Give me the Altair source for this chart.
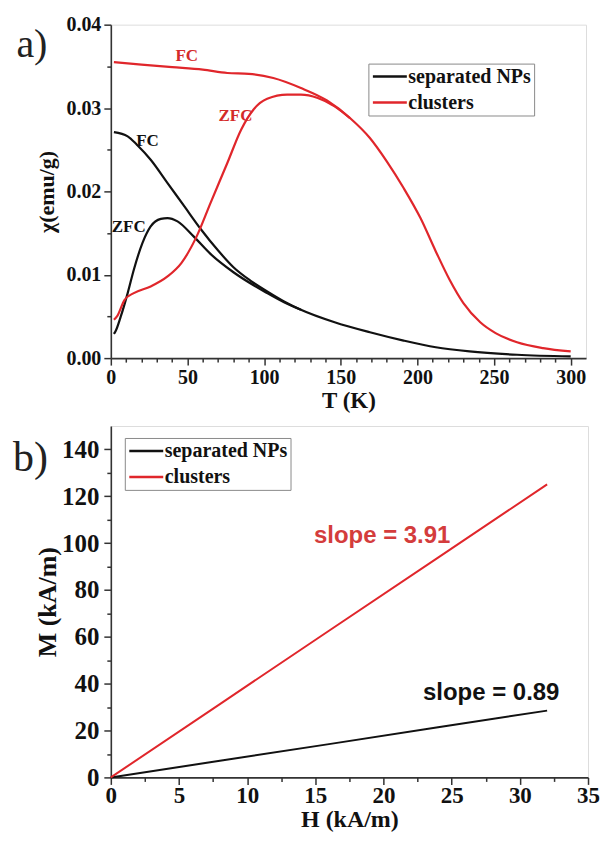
import altair as alt
import pandas as pd

# ---------------- Panel a: chi(T) ----------------
np_fc_T = [2, 11, 17, 26, 37, 48, 59, 70, 80, 91, 102, 113, 124, 146, 169, 191, 212, 234, 265, 300]
np_fc_chi = [0.0271, 0.0266, 0.0256, 0.0238, 0.0210, 0.0182, 0.0154, 0.0129, 0.0109, 0.0093,
             0.0080, 0.0068, 0.0058, 0.0043, 0.0031, 0.0021, 0.0013, 0.0008, 0.0004, 0.0002]

np_zfc_T = [2, 3, 6.5, 11, 15, 20.6, 26, 32.6, 37, 43.5, 54, 65, 80, 102, 113, 124]
np_zfc_chi = [0.0029, 0.0032, 0.0050, 0.0078, 0.0106, 0.0138, 0.0158, 0.0167, 0.0168, 0.0164,
              0.0146, 0.0125, 0.0103, 0.0078, 0.0067, 0.0058]

cl_fc_T = [2, 20, 40, 60, 76, 90, 106, 124, 141, 156, 169, 180, 191, 202, 212, 221, 230, 241,
           251, 265, 282, 300]
cl_fc_chi = [0.0355, 0.0352, 0.0349, 0.0346, 0.0342, 0.0341, 0.0336, 0.0324, 0.0309, 0.0288,
             0.0264, 0.0236, 0.0204, 0.0168, 0.0128, 0.0094, 0.0066, 0.0043, 0.0030, 0.0019,
             0.0012, 0.0008]

cl_zfc_T = [2, 4, 9, 15, 26, 37, 46, 56, 65, 76, 85, 93, 102, 115, 124, 135, 146, 156]
cl_zfc_chi = [0.0046, 0.0050, 0.0070, 0.0078, 0.0086, 0.0098, 0.0114, 0.0146, 0.0186, 0.0234,
              0.0274, 0.0298, 0.0311, 0.0316, 0.0316, 0.0312, 0.0302, 0.0288]

label_a_text = ["FC", "ZFC", "FC", "ZFC"]
label_a_T = [23.9, 11.7, 49.5, 81.3]
label_a_chi = [0.0260, 0.0157, 0.0362, 0.0290]
label_a_color = ["#111111", "#111111", "#d42a2a", "#d42a2a"]

tag_a_text = ["a)"]
tag_a_T = [-51.5]
tag_a_chi = [0.0375]

T_ticks = list(range(0, 310, 10))
chi_ticks = [0, 0.005, 0.01, 0.015, 0.02, 0.025, 0.03, 0.035, 0.04]

# ---------------- Panel b: M(H) ----------------
H_vals = [0, 8, 16, 24, 32]
M_np = [0, 7.1, 14.2, 21.4, 28.5]
M_cl = [0, 31.3, 62.6, 93.8, 125.1]

label_b_text = ["slope = 3.91", "slope = 0.89"]
label_b_H = [19.9, 27.9]
label_b_M = [103, 36.2]
label_b_color = ["#d43c3c", "#111111"]

tag_b_text = ["b)"]
tag_b_H = [-5.9]
tag_b_M = [136.5]

H_ticks = [0, 2.5, 5, 7.5, 10, 12.5, 15, 17.5, 20, 22.5, 25, 27.5, 30, 32.5, 35]
M_ticks = list(range(0, 150, 10))

series = ["separated NPs", "clusters"]
colors = ["#111111", "#e0262b"]

SERIF = "Liberation Serif"
SANS = "Liberation Sans"

rows = []
for s, mode, Ts, vs in [("separated NPs", "FC", np_fc_T, np_fc_chi),
                        ("separated NPs", "ZFC", np_zfc_T, np_zfc_chi),
                        ("clusters", "FC", cl_fc_T, cl_fc_chi),
                        ("clusters", "ZFC", cl_zfc_T, cl_zfc_chi)]:
    for t, v in zip(Ts, vs):
        rows.append({"T": t, "chi": v, "sample": s, "curve": s + " " + mode})
dfa = pd.DataFrame(rows)
dfa_lab = pd.DataFrame({"T": label_a_T, "chi": label_a_chi, "text": label_a_text, "col": label_a_color})
dfa_tag = pd.DataFrame({"T": tag_a_T, "chi": tag_a_chi, "text": tag_a_text})

rows = []
for s, Ms in [("separated NPs", M_np), ("clusters", M_cl)]:
    for h, m in zip(H_vals, Ms):
        rows.append({"H": h, "M": m, "sample": s})
dfb = pd.DataFrame(rows)
dfb_lab = pd.DataFrame({"H": label_b_H, "M": label_b_M, "text": label_b_text, "col": label_b_color})
dfb_tag = pd.DataFrame({"H": tag_b_H, "M": tag_b_M, "text": tag_b_text})

color_scale = alt.Scale(domain=series, range=colors)


def legend(x, y):
    return alt.Legend(title=None, orient="none", legendX=x, legendY=y,
                      symbolType="M-1,0L3,0", symbolSize=289, symbolStrokeWidth=2.5,
                      symbolOffset=0, labelOffset=17,
                      labelFont=SERIF, labelFontSize=20, labelFontWeight="bold", labelColor="#111",
                      strokeColor="#8a8a8a", padding=3, rowPadding=6)


def axis(orient, values, major_test, title, label_size, title_size, label_pad, title_pad, fmt=None):
    kw = dict(orient=orient, values=values, title=title, grid=False,
              tickSize={"condition": {"test": major_test, "value": 7}, "value": 4},
              labelExpr="(" + major_test + ") ? datum.label : ''",
              domainColor="#333", domainWidth=1.6, tickColor="#333", tickWidth=1.5,
              labelFont=SERIF, labelFontWeight="bold", labelColor="#111",
              labelFontSize=label_size, labelPadding=label_pad, labelFlush=False,
              labelOverlap=False,
              titleFont=SERIF, titleFontWeight="bold", titleColor="#111",
              titleFontSize=title_size, titlePadding=title_pad)
    if fmt:
        kw["format"] = fmt
    return alt.Axis(**kw)


# Panel a
xa = alt.X("T:Q", scale=alt.Scale(domain=[0, 310], nice=False),
           axis=axis("bottom", T_ticks, "datum.value % 50 === 0", "T (K)", 20, 23, 2, 2))
ya = alt.Y("chi:Q", scale=alt.Scale(domain=[0, 0.04], nice=False),
           axis=axis("left", chi_ticks, "abs(datum.value*100 - round(datum.value*100)) < 1e-6",
                     "χ(emu/g)", 20, 22, 3, 7, ".2f"))
lines_a = alt.Chart(dfa).mark_line(strokeWidth=2.2, interpolate="monotone").encode(
    x=xa, y=ya,
    color=alt.Color("sample:N", scale=color_scale, sort=series, legend=legend(258, 39)),
    detail="curve:N",
)
text_a = alt.Chart(dfa_lab).mark_text(font=SERIF, fontWeight="bold", fontSize=17).encode(
    x=xa, y=ya, text="text:N", color=alt.Color("col:N", scale=None),
)
tag_a = alt.Chart(dfa_tag).mark_text(font=SERIF, fontSize=40, color="#222").encode(
    x=xa, y=ya, text="text:N",
)
panel_a = alt.layer(lines_a, text_a, tag_a).properties(width=476, height=334)

# Panel b
xb = alt.X("H:Q", scale=alt.Scale(domain=[0, 35], nice=False),
           axis=axis("bottom", H_ticks, "datum.value % 5 === 0", "H (kA/m)", 23, 24, 0, 0))
yb = alt.Y("M:Q", scale=alt.Scale(domain=[0, 150], nice=False),
           axis=axis("left", M_ticks, "datum.value % 20 === 0", "M (kA/m)", 25, 26, 5, 1))
lines_b = alt.Chart(dfb).mark_line(strokeWidth=2).encode(
    x=xb, y=yb,
    color=alt.Color("sample:N", scale=color_scale, sort=series, legend=legend(14, 12)),
)
text_b = alt.Chart(dfb_lab).mark_text(font=SANS, fontWeight="bold", fontSize=24).encode(
    x=xb, y=yb, text="text:N", color=alt.Color("col:N", scale=None),
)
tag_b = alt.Chart(dfb_tag).mark_text(font=SERIF, fontSize=42, color="#222").encode(
    x=xb, y=yb, text="text:N",
)
panel_b = alt.layer(lines_b, text_b, tag_b).properties(width=478, height=352)

chart = alt.vconcat(panel_a, panel_b, spacing=12).resolve_scale(
    color="independent", x="independent", y="independent"
).resolve_legend(color="independent").configure_view(stroke=None).properties(
    padding={"left": 4, "top": 5, "right": 0, "bottom": 0}
).configure(background="white")

chart.save("out.html", embed_options={"renderer": "svg", "actions": False})
